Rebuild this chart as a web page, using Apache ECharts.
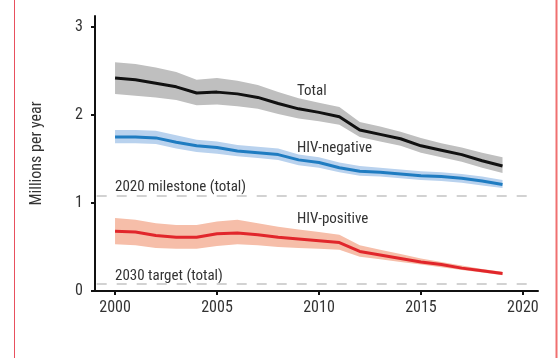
<!DOCTYPE html>
<html>
<head>
<meta charset="utf-8">
<script src="https://cdn.jsdelivr.net/npm/echarts@6/dist/echarts.min.js"></script>
<style>
html,body{margin:0;padding:0;background:#fff;}
#chart{width:558px;height:358px;}
</style>
</head>
<body>
<div id="chart"></div>
<script>
const years = [2000,2001,2002,2003,2004,2005,2006,2007,2008,2009,2010,2011,2012,2013,2014,2015,2016,2017,2018,2019];
const totalMid  = [2.42,2.40,2.36,2.32,2.25,2.26,2.24,2.20,2.13,2.07,2.03,1.98,1.83,1.78,1.73,1.65,1.60,1.55,1.48,1.42];
const totalLow  = [2.24,2.22,2.20,2.17,2.11,2.12,2.10,2.07,2.01,1.96,1.93,1.89,1.75,1.70,1.65,1.57,1.52,1.47,1.40,1.34];
const totalHigh = [2.60,2.58,2.54,2.49,2.40,2.42,2.39,2.34,2.26,2.19,2.14,2.09,1.92,1.87,1.81,1.74,1.68,1.63,1.57,1.52];
const negMid    = [1.75,1.75,1.74,1.69,1.65,1.63,1.59,1.57,1.55,1.49,1.46,1.40,1.36,1.35,1.33,1.31,1.30,1.28,1.25,1.21];
const negLow    = [1.68,1.68,1.67,1.62,1.58,1.56,1.53,1.51,1.49,1.43,1.40,1.35,1.31,1.30,1.28,1.26,1.25,1.23,1.20,1.17];
const negHigh   = [1.83,1.83,1.82,1.77,1.72,1.70,1.66,1.64,1.62,1.55,1.52,1.46,1.42,1.40,1.38,1.36,1.35,1.33,1.30,1.26];
const posMid    = [0.68,0.67,0.63,0.61,0.61,0.65,0.66,0.64,0.61,0.59,0.57,0.55,0.45,0.41,0.37,0.33,0.30,0.26,0.23,0.20];
const posLow    = [0.53,0.52,0.49,0.48,0.48,0.51,0.53,0.52,0.50,0.49,0.48,0.47,0.39,0.36,0.33,0.30,0.27,0.24,0.21,0.18];
const posHigh   = [0.83,0.81,0.77,0.75,0.75,0.79,0.81,0.77,0.73,0.70,0.67,0.64,0.52,0.47,0.42,0.37,0.33,0.29,0.25,0.22];
const milestone2020 = 1.08;
const target2030 = 0.08;
const xTicks = [2000,2005,2010,2015,2020];
const yTicks = [0,1,2,3];
const seriesNames = ['Total','HIV-negative','HIV-positive'];
const refLabels = ['2020 milestone (total)','2030 target (total)'];

const FONT = '"Liberation Sans Narrow","Roboto Condensed","DejaVu Sans Condensed",sans-serif';
const TXT = '#333';

function pairs(a){ return years.map((y,i)=>[y,a[i]]); }
function band(low, high, color){
  return {
    type:'custom', coordinateSystem:'cartesian2d', silent:true, z:1,
    data:[[years[0], low[0]]],
    encode:{x:0, y:1},
    renderItem:function(params, api){
      const pts = [];
      for (let i=0;i<years.length;i++) pts.push(api.coord([years[i], high[i]]));
      for (let i=years.length-1;i>=0;i--) pts.push(api.coord([years[i], low[i]]));
      return {type:'polygon', shape:{points:pts}, style:{fill:color, stroke:null}};
    }
  };
}
function line(mid, color, name){
  return {type:'line', name:name, data:pairs(mid), symbol:'none', lineStyle:{color:color, width:3}, z:5};
}

const chart = echarts.init(document.getElementById('chart'), null, {renderer:'canvas'});
const option = {
  animation:false,
  backgroundColor:'#fff',
  grid:{left:92, right:20, top:16, bottom:67, containLabel:false},
  xAxis:{
    type:'value', min:1998.87, max:2020.74,
    axisLine:{show:true, lineStyle:{color:'#111', width:2}},
    axisTick:{show:true, length:4, lineStyle:{color:'#111', width:2}, customValues:xTicks},
    axisLabel:{show:true, color:TXT, fontFamily:FONT, fontSize:16, margin:9, customValues:xTicks, formatter:v=>String(v)},
    splitLine:{show:false}
  },
  yAxis:{
    type:'value', min:0, max:3.125, offset:-3,
    name:'Millions per year', nameLocation:'middle', nameGap:50,
    nameTextStyle:{color:TXT, fontFamily:FONT, fontSize:16},
    axisLine:{show:true, lineStyle:{color:'#111', width:2}},
    axisTick:{show:true, length:4, lineStyle:{color:'#111', width:2}, customValues:yTicks},
    axisLabel:{show:true, color:TXT, fontFamily:FONT, fontSize:16, margin:12, customValues:yTicks, formatter:v=>String(v)},
    splitLine:{show:false}
  },
  series:[
    band(totalLow, totalHigh, '#bfbfbf'),
    band(negLow, negHigh, '#b9d2ee'),
    band(posLow, posHigh, '#f6bea9'),
    {type:'line', data:[], symbol:'none', silent:true,
     markLine:{symbol:'none', silent:true, label:{show:false},
       lineStyle:{color:'#c4c4c4', type:[10,10], width:1.5},
       data:[
         [{coord:[1999.1, milestone2020]},{coord:[2020.3, milestone2020]}],
         [{coord:[1999.1, target2030]},{coord:[2020.3, target2030]}]
       ]}, z:2},
    line(totalMid, '#111111', seriesNames[0]),
    line(negMid, '#1f7cc1', seriesNames[1]),
    line(posMid, '#e1262b', seriesNames[2])
  ],
  graphic:[
    {type:'line', shape:{x1:14.5, y1:0, x2:14.5, y2:358}, style:{stroke:'#e8505e', lineWidth:1}},
    {type:'line', shape:{x1:556.5, y1:0, x2:556.5, y2:358}, style:{stroke:'#f07070', lineWidth:2}},
    {type:'text', x:297, y:91, style:{text:seriesNames[0], fill:TXT, font:'15px '+FONT, verticalAlign:'middle'}},
    {type:'text', x:297, y:148, style:{text:seriesNames[1], fill:TXT, font:'15px '+FONT, verticalAlign:'middle'}},
    {type:'text', x:297, y:219, style:{text:seriesNames[2], fill:TXT, font:'15px '+FONT, verticalAlign:'middle'}},
    {type:'text', x:115, y:187, style:{text:refLabels[0], fill:TXT, font:'15px '+FONT, verticalAlign:'middle'}},
    {type:'text', x:115, y:276, style:{text:refLabels[1], fill:TXT, font:'15px '+FONT, verticalAlign:'middle'}}
  ]
};
chart.setOption(option);
</script>
</body>
</html>
